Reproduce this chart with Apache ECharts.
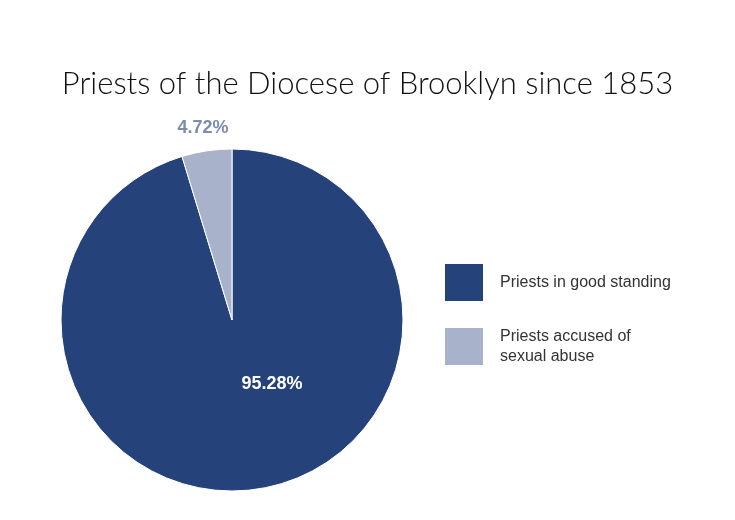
<!DOCTYPE html>
<html><head><meta charset="utf-8">
<script src="https://cdn.jsdelivr.net/npm/echarts@6/dist/echarts.min.js"></script>
<style>html,body{margin:0;padding:0;background:#fff}#c{width:735px;height:520px}</style>
</head><body><div id="c"></div>
<script>
const categories = ["Priests in good standing", "Priests accused of sexual abuse"];
const legendLabels = ["Priests in good standing", "Priests accused of\nsexual abuse"];
const values = [95.28, 4.72];
const colors = ["#25437a", "#a8b2cb"];

const chart = echarts.init(document.getElementById('c'));
chart.setOption({
  animation: false,
  title: {
    text: "Priests of the Diocese of Brooklyn since 1853",
    left: 'center', top: 63,
    textStyle: {fontFamily: 'Lato', fontWeight: 300, fontSize: 31, color: '#111'}
  },
  legend: {
    orient: 'vertical', left: 438, top: 257,
    itemWidth: 40, itemHeight: 39, itemGap: 23, icon: 'rect',
    data: categories,
    formatter: function(n){ return legendLabels[categories.indexOf(n)]; },
    textStyle: {fontFamily: 'Liberation Sans', fontSize: 16, color: '#333', lineHeight: 20, padding: [0,0,0,11]}
  },
  series: [{
    type: 'pie', center: [232, 320], radius: 171, startAngle: 90, clockwise: true,
    itemStyle: {borderColor: '#fff', borderWidth: 1},
    labelLine: {show: false},
    data: categories.map((c, i) => ({
      name: c, value: values[i], itemStyle: {color: colors[i]},
      label: i === 0
        ? {show: true, position: 'inner', offset: [27, -23], formatter: v => v.value.toFixed(2) + '%', color: '#fff', fontSize: 18, fontWeight: 'bold', fontFamily: 'Liberation Sans'}
        : {show: true, position: 'inner', offset: [-16, -104], formatter: v => v.value.toFixed(2) + '%', color: '#7a8db0', fontSize: 18, fontWeight: 'bold', fontFamily: 'Liberation Sans'}
    }))
  }]
});
</script></body></html>
